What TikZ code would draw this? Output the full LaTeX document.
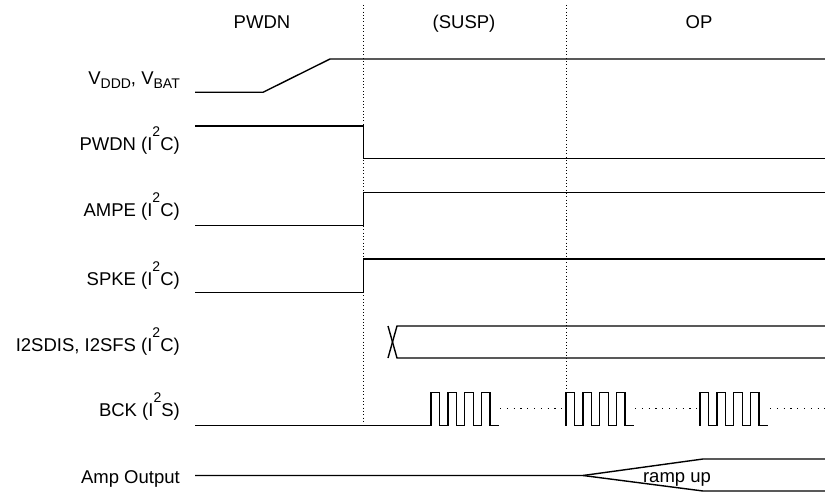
\documentclass[tikz,border=0pt]{standalone}
\usepackage{fontspec}
\setmainfont{Liberation Sans}
\newcommand{\sigfont}{\fontsize{18.5}{20}\selectfont}
\newcommand{\subtxt}[1]{\raisebox{-3.5pt}{\fontsize{14}{14}\selectfont #1}}
\newcommand{\suptxt}[1]{\raisebox{14pt}{\fontsize{14}{14}\selectfont #1}}
\begin{document}
\begin{tikzpicture}[x=1pt,y=-1pt,
  sig/.style={line width=1.4pt, line join=miter},
  phaseline/.style={line width=1pt, dash pattern=on 1pt off 2.3pt},
  gapdots/.style={line width=1.2pt, dash pattern=on 1.2pt off 5.6pt},
  lbl/.style={anchor=base east, inner sep=0pt, font=\sigfont},
  hdr/.style={anchor=base, inner sep=0pt, font=\sigfont}]
\useasboundingbox (0,0) rectangle (825,492);

% phase separators
\draw[phaseline] (363.5,5) -- (363.5,422);
\draw[phaseline] (566,5) -- (566,390);

% header
\node[hdr] (hpwdn) at (262,28.5) {PWDN};
\node[hdr] (hsusp) at (464,28.5) {(SUSP)};
\node[hdr] (hop) at (699,28.5) {OP};

% labels
\node[lbl] (lv) at (180,84.6) {V\subtxt{DDD}, V\subtxt{BAT}};
\node[lbl] (lp) at (180,150.6) {PWDN (I\suptxt{2}C)};
\node[lbl] (la) at (180,216.8) {AMPE (I\suptxt{2}C)};
\node[lbl] (ls) at (180,285) {SPKE (I\suptxt{2}C)};
\node[lbl] (li) at (180,351.6) {I2SDIS, I2SFS (I\suptxt{2}C)};
\node[lbl] (lb) at (180,416.8) {BCK (I\suptxt{2}S)};
\node[lbl] (lo) at (180,483) {Amp Output};

% VDDD, VBAT
\draw[sig] (195,92.3) -- (263,92.3) -- (330,59) -- (825,59);
% PWDN
\draw[sig] (195,126) -- (363.5,126) -- (363.5,158.3) -- (825,158.3);
% AMPE
\draw[sig] (195,225.7) -- (363.5,225.7) -- (363.5,192.7) -- (825,192.7);
% SPKE
\draw[sig] (195,292.3) -- (363.5,292.3) -- (363.5,259) -- (825,259);
% I2SDIS, I2SFS
\draw[sig] (388,326) -- (397,358) -- (825,358);
\draw[sig] (388,358) -- (397,326) -- (825,326);
% BCK
\draw[sig] (195,425.7) -- (431,425.7);
\foreach \x in {431,566,700}{
  \draw[sig] (\x,425.7)
    -- ++(0,-33.4) -- ++(8.6,0) -- ++(0,33.4) -- ++(8.2,0)
    -- ++(0,-33.4) -- ++(8.6,0) -- ++(0,33.4) -- ++(8.2,0)
    -- ++(0,-33.4) -- ++(8.6,0) -- ++(0,33.4) -- ++(8.2,0)
    -- ++(0,-33.4) -- ++(8.6,0) -- ++(0,33.4) -- ++(8.5,0);
}
\draw[gapdots] (500,408.3) -- (565,408.3);
\draw[gapdots] (635,408.3) -- (699,408.3);
\draw[gapdots] (770,408.3) -- (825,408.3);
% Amp output
\draw[sig] (195,475.5) -- (583,475.5) -- (703,459) -- (825,459);
\draw[sig] (583,475.5) -- (703,491) -- (825,491);
\node[hdr] (ramp) at (677,482) {ramp up};
\end{tikzpicture}
\end{document}
